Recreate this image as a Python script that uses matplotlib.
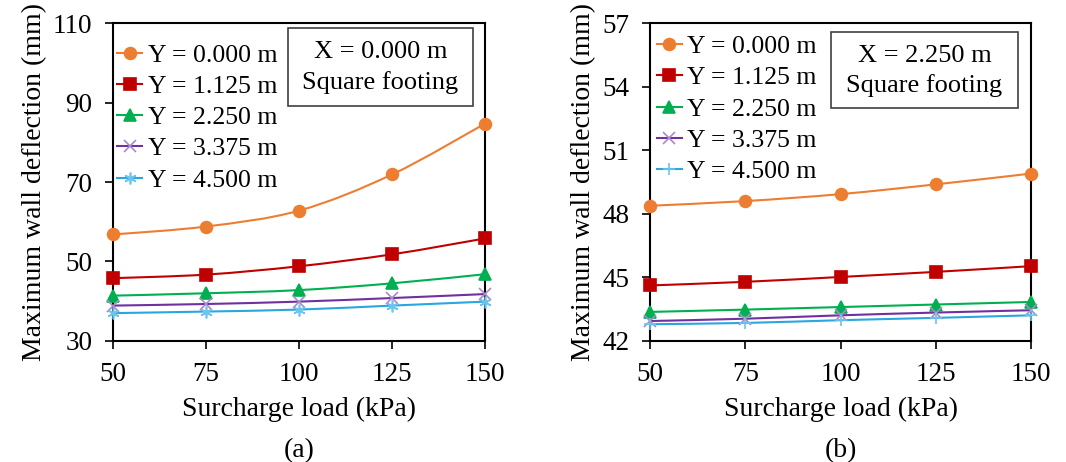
import matplotlib
matplotlib.use('Agg')
import matplotlib.pyplot as plt
from matplotlib.path import Path
from matplotlib.patches import PathPatch, Rectangle
from matplotlib.lines import Line2D

plt.rcParams['font.family'] = ['Liberation Serif', 'DejaVu Serif']
plt.rcParams['font.size'] = 20

# data
loads = [50, 75, 100, 125, 150]
labels = ['Y = 0.000 m', 'Y = 1.125 m', 'Y = 2.250 m', 'Y = 3.375 m', 'Y = 4.500 m']

defl_a = [
    [56.8, 58.8, 62.8, 71.9, 84.7],
    [45.8, 46.7, 48.8, 51.8, 55.8],
    [41.4, 42.0, 42.8, 44.5, 46.8],
    [38.9, 39.3, 39.9, 40.8, 41.8],
    [37.0, 37.4, 37.9, 38.9, 39.9],
]
defl_b = [
    [48.38, 48.60, 48.93, 49.39, 49.90],
    [44.62, 44.79, 45.02, 45.26, 45.53],
    [43.37, 43.48, 43.60, 43.72, 43.84],
    [42.94, 43.05, 43.21, 43.34, 43.45],
    [42.79, 42.85, 42.98, 43.09, 43.21],
]

line_colors = ['#ED7D31', '#C00000', '#00B050', '#7030A0', '#2AA6E0']
marker_colors = ['#ED7D31', '#C00000', '#00B050', '#A88BC9', '#6CC4EC']
markers_a = ['o', 's', '^', 'x', (6, 2, 0)]
markers_b = ['o', 's', '^', 'x', '+']


def smooth_path(xs, ys):
    # Excel style smoothed line through the points (cubic bezier segments)
    pts = list(zip(xs, ys))
    n = len(pts)
    verts = [pts[0]]
    codes = [Path.MOVETO]
    for i in range(n - 1):
        p0 = pts[i - 1] if i > 0 else pts[i]
        p1 = pts[i]
        p2 = pts[i + 1]
        p3 = pts[i + 2] if i + 2 < n else pts[i + 1]
        c1 = (p1[0] + (p2[0] - p0[0]) / 6, p1[1] + (p2[1] - p0[1]) / 6)
        c2 = (p2[0] - (p3[0] - p1[0]) / 6, p2[1] - (p3[1] - p1[1]) / 6)
        verts += [c1, c2, p2]
        codes += [Path.CURVE4] * 3
    return Path(verts, codes)


def draw_panel(ax, data, markers, ylim, yticks, xname, box, txt, leg_anchor):
    for vals, lab, lc, mc, mk in zip(data, labels, line_colors, marker_colors, markers):
        ax.add_patch(PathPatch(smooth_path(loads, vals), fill=False,
                               edgecolor=lc, linewidth=1.5, zorder=2))
        ax.plot(loads, vals, linestyle='none', marker=mk, markersize=8.5,
                markerfacecolor=mc, markeredgecolor=mc, markeredgewidth=1.2,
                zorder=3, clip_on=False)
    handles = [Line2D([], [], color=lc, lw=1.5, marker=mk, markersize=8.5,
                      markerfacecolor=mc, markeredgecolor=mc, markeredgewidth=1.2)
               for lc, mc, mk in zip(line_colors, marker_colors, markers)]
    ax.legend(handles, labels, loc='upper left', bbox_to_anchor=leg_anchor,
              frameon=False, handlelength=1.0, handletextpad=0.2,
              labelspacing=0.32, borderaxespad=0, borderpad=0, fontsize=18.5)
    ax.set_xlim(50, 150)
    ax.set_ylim(*ylim)
    ax.set_xticks(loads)
    ax.set_yticks(yticks)
    ax.tick_params(direction='out', length=6, width=1.2, pad=9, labelsize=19.5)
    for s in ax.spines.values():
        s.set_linewidth(1.5)
    ax.set_xlabel('Surcharge load (kPa)', labelpad=7)
    ax.set_ylabel('Maximum wall deflection (mm)', labelpad=4)
    x0, y0, x1, y1 = box
    ax.add_patch(Rectangle((x0, y0), x1 - x0, y1 - y0, transform=ax.transAxes,
                           fill=True, facecolor='white', edgecolor='#404040',
                           linewidth=1.2, zorder=4))
    cx = (x0 + x1) / 2
    ax.text(cx, y0 + (y1 - y0) * 0.69, txt, transform=ax.transAxes,
            ha='center', va='center', zorder=5, fontsize=19)
    ax.text(cx, y0 + (y1 - y0) * 0.30, 'Square footing', transform=ax.transAxes,
            ha='center', va='center', zorder=5, fontsize=19)
    ax.text(0.5, -0.345, xname, transform=ax.transAxes, ha='center', va='center')


fig = plt.figure(figsize=(10.66, 4.62), dpi=100)
ax1 = fig.add_axes([0.106, 0.262, 0.349, 0.688])
ax2 = fig.add_axes([0.6098, 0.262, 0.3574, 0.688])

draw_panel(ax1, defl_a, markers_a, (30, 110), [30, 50, 70, 90, 110], '(a)',
           (0.470, 0.739, 0.968, 0.984), 'X = 0.000 m', (0.01, 0.935))
draw_panel(ax2, defl_b, markers_b, (42, 57), [42, 45, 48, 51, 54, 57], '(b)',
           (0.475, 0.733, 0.966, 0.972), 'X = 2.250 m', (0.017, 0.962))

fig.savefig('out.png', dpi=100, facecolor='white')
